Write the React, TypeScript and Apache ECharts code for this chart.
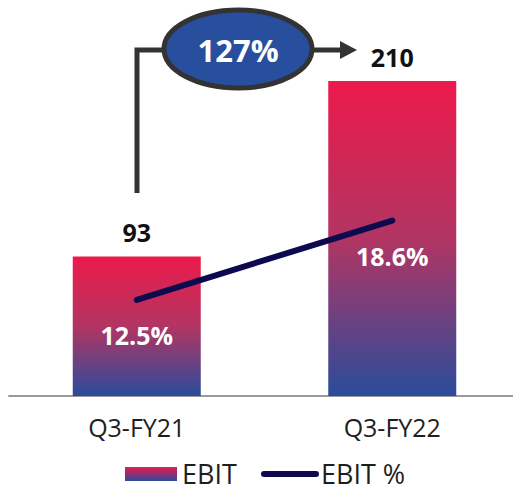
import React, { useEffect, useRef } from "react";
import * as echarts from "echarts";

const categories = ["Q3-FY21", "Q3-FY22"];
const ebitValues = [93, 210];
const ebitPctValues = [12.5, 18.6];
const growthLabel = "127%";
const legendLabels = ["EBIT", "EBIT %"];

const FONT = "'Open Sans', 'Noto Sans', sans-serif";

export default function App() {
  const ref = useRef<HTMLDivElement>(null);
  useEffect(() => {
    if (!ref.current) return;
    const chart = echarts.init(ref.current, null, { renderer: "svg" });
    const barGradient = new echarts.graphic.LinearGradient(0, 0, 0, 1, [
      { offset: 0, color: "#ec1a4b" },
      { offset: 0.5, color: "#b23563" },
      { offset: 1, color: "#2a4c9b" },
    ]);
    chart.setOption({
      animation: false,
      grid: {
        left: 9,
        right: -7,
        top: 36,
        bottom: 94,
        containLabel: false,
        outerBoundsMode: "none",
      },
      xAxis: {
        type: "category",
        data: categories,
        axisLine: { lineStyle: { color: "#9a9a9a", width: 2 } },
        axisTick: { show: false },
        axisLabel: {
          color: "#1e1e1e",
          fontSize: 25,
          fontFamily: FONT,
          margin: 18,
        },
      },
      yAxis: [
        { type: "value", min: 0, max: 240, show: false },
        { type: "value", min: 5.1, max: 32.8, show: false },
      ],
      series: [
        {
          name: legendLabels[0],
          type: "bar",
          data: ebitValues,
          barWidth: 128,
          itemStyle: { color: barGradient },
          label: {
            show: true,
            position: "top",
            distance: 12,
            color: "#111",
            fontSize: 25,
            fontWeight: "bold",
            fontFamily: FONT,
          },
        },
        {
          name: legendLabels[1],
          type: "line",
          yAxisIndex: 1,
          data: ebitPctValues,
          symbol: "circle",
          symbolSize: 2,
          showSymbol: true,
          itemStyle: { color: "#0d0a4f" },
          lineStyle: { color: "#0d0a4f", width: 6, cap: "round" },
          label: {
            show: true,
            position: "bottom",
            distance: 22,
            color: "#ffffff",
            fontSize: 25,
            fontWeight: "bold",
            fontFamily: FONT,
            formatter: (p: any) => p.value + "%",
          },
          z: 5,
        },
      ],
      graphic: [
        {
          type: "polyline",
          shape: { points: [[137, 193], [137, 50], [165, 50]] },
          style: { stroke: "#333333", lineWidth: 5, fill: null },
        },
        {
          type: "line",
          shape: { x1: 310, y1: 50, x2: 342, y2: 50 },
          style: { stroke: "#333333", lineWidth: 5 },
        },
        {
          type: "polygon",
          shape: { points: [[340, 41], [357, 50], [340, 59]] },
          style: { fill: "#333333" },
        },
        {
          type: "ellipse",
          shape: { cx: 238, cy: 49, rx: 74, ry: 39 },
          style: { fill: "#284f9e", stroke: "#333333", lineWidth: 5 },
        },
        {
          type: "text",
          x: 238,
          y: 50,
          style: {
            text: growthLabel,
            fill: "#ffffff",
            font: `bold 31px ${FONT}`,
            align: "center",
            verticalAlign: "middle",
          },
        },
        {
          type: "rect",
          shape: { x: 125, y: 467, width: 52, height: 14 },
          style: {
            fill: new echarts.graphic.LinearGradient(0, 0, 0, 1, [
              { offset: 0, color: "#ec1a4b" },
              { offset: 1, color: "#2a4c9b" },
            ]),
          },
        },
        {
          type: "text",
          x: 182,
          y: 473,
          style: {
            text: legendLabels[0],
            fill: "#1e1e1e",
            font: `27px ${FONT}`,
            align: "left",
            verticalAlign: "middle",
          },
        },
        {
          type: "line",
          shape: { x1: 264, y1: 474, x2: 316, y2: 474 },
          style: { stroke: "#0d0a4f", lineWidth: 6, lineCap: "round" },
        },
        {
          type: "text",
          x: 321,
          y: 473,
          style: {
            text: legendLabels[1],
            fill: "#1e1e1e",
            font: `27px ${FONT}`,
            align: "left",
            verticalAlign: "middle",
          },
        },
      ],
    });
    return () => chart.dispose();
  }, []);
  return (
    <div
      ref={ref}
      style={{ position: "absolute", left: 0, top: 0, width: 513, height: 490 }}
    />
  );
}
